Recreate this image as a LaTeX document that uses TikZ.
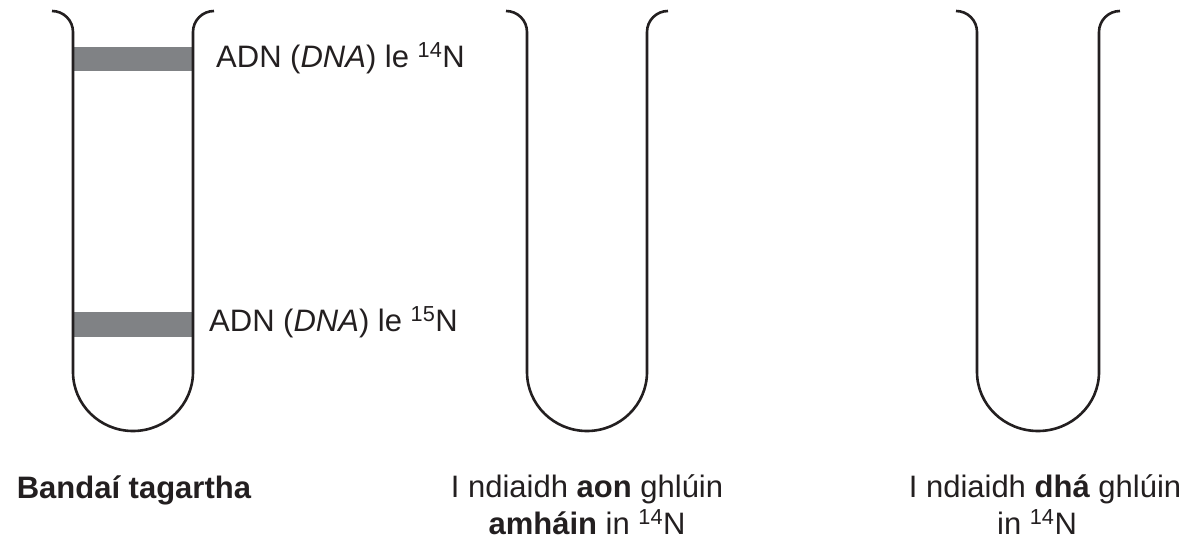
\documentclass[tikz,border=0pt]{standalone}
\usepackage{fontspec}
\setmainfont{Liberation Sans}
\definecolor{tubeline}{HTML}{231F20}
\definecolor{bandgray}{HTML}{808285}
\begin{document}
\begin{tikzpicture}[x=1pt,y=-1pt,
  tubewall/.style={draw=tubeline,line width=2.6pt,line cap=butt,line join=round},
  band/.style={fill=bandgray,draw=none},
  lbl/.style={inner sep=0pt,font=\fontsize{31}{37}\selectfont,text=tubeline}]
\useasboundingbox[fill=white] (0,0) rectangle (1196,541);
% bands (under the walls)
\fill[band] (73,47) rectangle (193,71);
\fill[band] (73,312) rectangle (193,337);
% tubes
\foreach \c/\w in {133/60,587/60,1038/61}{
  \draw[tubewall]
    ({\c-\w-21},11) .. controls ({\c-\w-9.4},11) and ({\c-\w},20.4) .. ({\c-\w},32)
    -- ({\c-\w},372)
    .. controls ({\c-\w},404.6) and ({\c-0.5523*\w},431) .. (\c,431)
    .. controls ({\c+0.5523*\w},431) and ({\c+\w},404.6) .. ({\c+\w},372)
    -- ({\c+\w},32)
    .. controls ({\c+\w},20.4) and ({\c+\w+9.4},11) .. ({\c+\w+21},11);
}
% band labels
\node[lbl,anchor=base west] (l14) at (216,67) {ADN (\textit{DNA}) le \textsuperscript{14}N};
\node[lbl,anchor=base west] (l15) at (209,331) {ADN (\textit{DNA}) le \textsuperscript{15}N};
% captions
\node[lbl,anchor=base] (cap1) at (134,498) {\textbf{Bandaí tagartha}};
\node[lbl,anchor=base] (cap2a) at (587,497) {I ndiaidh \textbf{aon} ghlúin};
\node[lbl,anchor=base] (cap2b) at (587,534) {\textbf{amháin} in \textsuperscript{14}N};
\node[lbl,anchor=base] (cap3a) at (1045,497) {I ndiaidh \textbf{dhá} ghlúin};
\node[lbl,anchor=base] (cap3b) at (1037,534) {in \textsuperscript{14}N};
\end{tikzpicture}
\end{document}
